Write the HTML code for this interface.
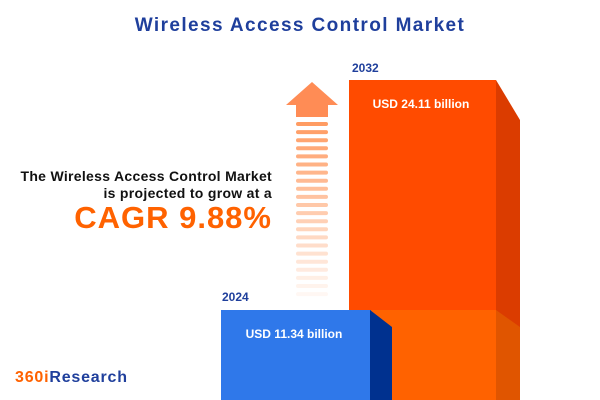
<!DOCTYPE html>
<html><head><style>
body{margin:0;width:600px;height:400px;background:#fff;position:relative;overflow:hidden;font-family:"Liberation Sans",sans-serif;}
.a{position:absolute;white-space:nowrap;font-weight:bold;}
</style></head><body>
<div class="a" style="left:0;width:600px;top:15px;text-align:center;font-size:19px;letter-spacing:1.4px;color:#1f3f9c;">Wireless Access Control Market</div>
<div class="a" style="right:328px;top:168px;font-size:14px;letter-spacing:0.3px;color:#111;text-align:right;line-height:17px;">The Wireless Access Control Market<br>is projected to grow at a</div>
<div class="a" style="right:328px;top:200px;font-size:31px;letter-spacing:1px;color:#ff6200;">CAGR 9.88%</div>
<div class="a" style="left:15px;top:369px;font-size:16px;letter-spacing:0.8px;color:#1f3f9c;"><span style="color:#ff6200">360i</span>Research</div>
<svg style="position:absolute;left:0;top:0" width="600" height="400">
<polygon points="312,82 338,105 328,105 328,117 296,117 296,105 286,105" fill="#ff8c55"/>
<g id="s"></g>
<rect x="349" y="80" width="147" height="320" fill="#ff4b00"/>
<polygon points="496,80 520,120 520,400 496,400" fill="#db3c00"/>
<rect x="370" y="310" width="126" height="90" fill="#ff6200"/>
<polygon points="496,310 520,327 520,400 496,400" fill="#e05500"/>
<rect x="221" y="310" width="150" height="90" fill="#2f78ea"/>
<polygon points="370,310 392,327 392,400 370,400" fill="#00318f"/>
<text x="421" y="108" font-size="12" font-weight="bold" fill="#fff" text-anchor="middle" font-family="Liberation Sans">USD 24.11 billion</text>
<text x="294" y="338" font-size="12" font-weight="bold" fill="#fff" text-anchor="middle" font-family="Liberation Sans">USD 11.34 billion</text>
<text x="352" y="72" font-size="12" font-weight="bold" fill="#1f3f9c" font-family="Liberation Sans">2032</text>
<text x="222" y="301" font-size="12" font-weight="bold" fill="#1f3f9c" font-family="Liberation Sans">2024</text>
</svg>
<script>
var g=document.getElementById('s'),n=22;
for(var i=0;i<n;i++){var r=document.createElementNS('http://www.w3.org/2000/svg','rect');
r.setAttribute('x',296);r.setAttribute('y',122+i*8.1);r.setAttribute('width',32);r.setAttribute('height',4);r.setAttribute('rx',2);
r.setAttribute('fill','#ff9a60');r.setAttribute('fill-opacity',(1-i/n)*0.95+0.03);g.appendChild(r);}
</script>
</body></html>
